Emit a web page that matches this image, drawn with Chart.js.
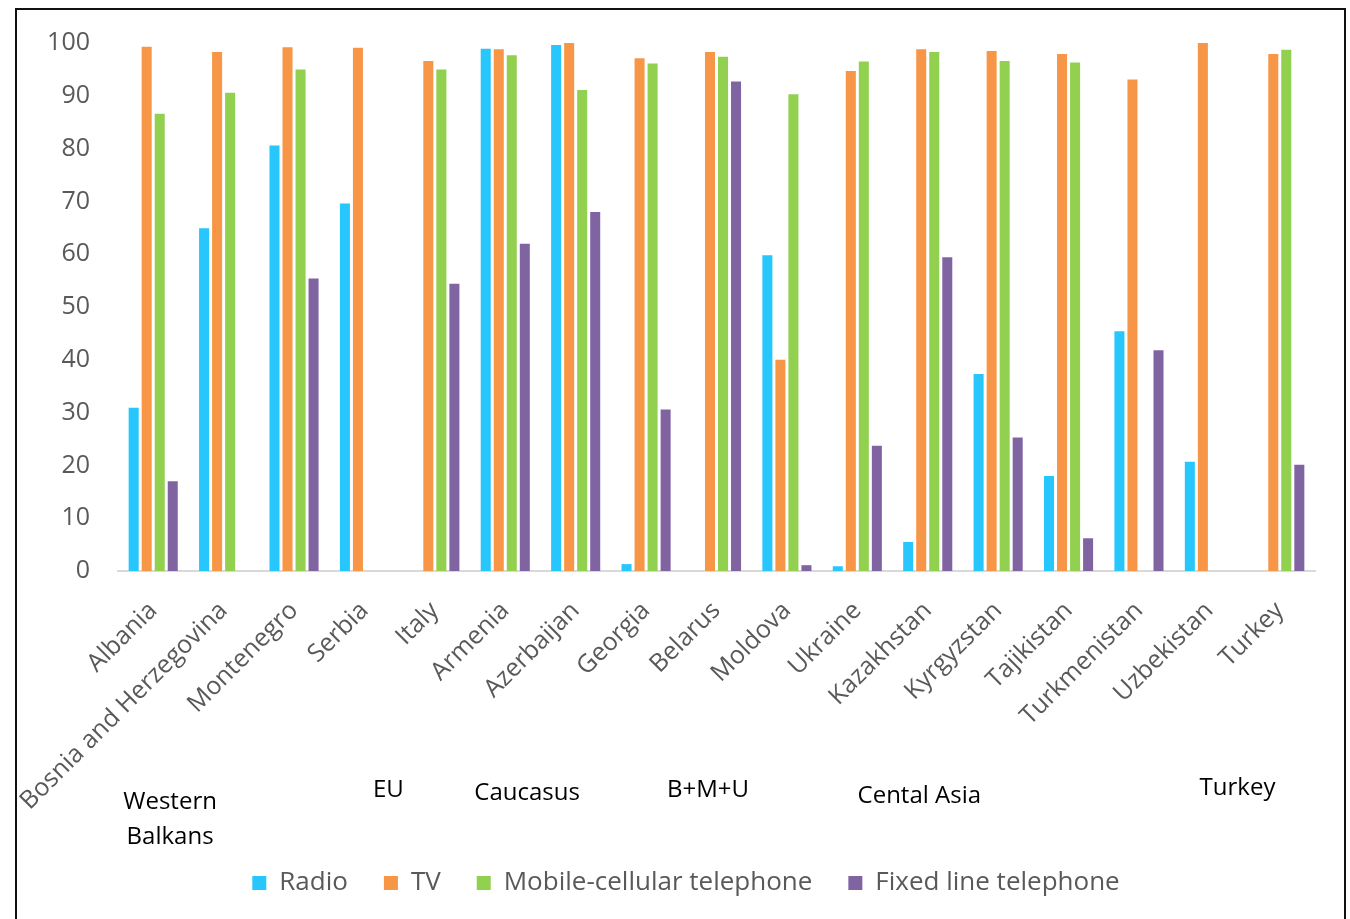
<!DOCTYPE html>
<html>
<head>
<meta charset="utf-8">
<script src="https://cdn.jsdelivr.net/npm/chart.js@4.4.1/dist/chart.umd.min.js"></script>
<style>
  html, body { margin: 0; padding: 0; background: #ffffff; overflow: hidden; }
  #wrap { position: relative; width: 1350px; height: 919px; }
  #frame { position: absolute; left: 15px; top: 8px; width: 1331px; height: 940px;
           border: 2px solid #111; box-sizing: border-box; pointer-events: none; }
  canvas { position: absolute; left: 0; top: 0; }
</style>
</head>
<body>
<div id="wrap">
  <canvas id="chart" width="1350" height="919"></canvas>
  <div id="frame"></div>
</div>
<script>
// Countries along the category axis
const countries = [
  'Albania', 'Bosnia and Herzegovina', 'Montenegro', 'Serbia', 'Italy',
  'Armenia', 'Azerbaijan', 'Georgia', 'Belarus', 'Moldova', 'Ukraine',
  'Kazakhstan', 'Kyrgyzstan', 'Tajikistan', 'Turkmenistan', 'Uzbekistan', 'Turkey'
];

// Share of households (%) by medium; null = no value reported
const radio = [30.9, 64.9, 80.6, 69.6, null, 98.9, 99.6, 1.3, null, 59.8, 0.9,
               5.5, 37.3, 18.0, 45.4, 20.7, null];
const tv = [99.3, 98.3, 99.2, 99.1, 96.6, 98.8, 100, 97.1, 98.3, 40.0, 94.7,
            98.8, 98.5, 97.9, 93.1, 100, 97.9];
const mobile = [86.6, 90.6, 95.0, null, 95.0, 97.7, 91.1, 96.1, 97.4, 90.3, 96.5,
                98.3, 96.6, 96.3, null, null, 98.7];
const fixedLine = [17.0, null, 55.4, null, 54.4, 62.0, 68.0, 30.6, 92.7, 1.1, 23.7,
                   59.4, 25.3, 6.2, 41.8, null, 20.1];

// Value axis ticks
const yTicks = [0, 10, 20, 30, 40, 50, 60, 70, 80, 90, 100];

// Regional groupings written under the country names
const regionNames = [['Western', 'Balkans'], ['EU'], ['Caucasus'], ['B+M+U'], ['Cental Asia'], ['Turkey']];

// Where each region caption sits: category position and drop below the axis line
const regionPlacement = [
  { at: 0.24, dy: 231 }, { at: 3.34, dy: 219 }, { at: 5.31, dy: 222 },
  { at: 7.88, dy: 219 }, { at: 10.88, dy: 225 }, { at: 15.4, dy: 217 }
];

const FONT = "'Open Sans', 'Liberation Sans', sans-serif";

const regionCaptions = {
  id: 'regionCaptions',
  afterDraw(chart) {
    const { ctx } = chart;
    const xs = chart.scales.x;
    const base = chart.chartArea.bottom;
    ctx.save();
    ctx.fillStyle = '#000000';
    ctx.font = '24px ' + FONT;
    ctx.textAlign = 'center';
    ctx.textBaseline = 'middle';
    regionNames.forEach((lines, i) => {
      const p = regionPlacement[i];
      const x = xs.getPixelForValue(p.at);
      lines.forEach((line, k) => {
        ctx.fillText(line, x, base + p.dy + k * 35);
      });
    });
    ctx.restore();
  }
};

const mk = (label, data, color) => ({
  label, data, backgroundColor: color, borderWidth: 0,
  barPercentage: 0.77, categoryPercentage: 0.74, yAxisID: 'y'
});

new Chart(document.getElementById('chart'), {
  type: 'bar',
  data: {
    labels: countries,
    datasets: [
      mk('Radio', radio, '#27C6FC'),
      mk('TV', tv, '#F79646'),
      mk('Mobile-cellular telephone', mobile, '#92D050'),
      mk('Fixed line telephone', fixedLine, '#8064A2')
    ]
  },
  options: {
    responsive: false,
    animation: false,
    layout: { padding: { left: 22, right: 0, top: 43, bottom: 13 } },
    plugins: {
      legend: {
        position: 'bottom',
        labels: {
          boxWidth: 14, boxHeight: 14, padding: 36,
          color: '#595959', font: { family: FONT, size: 26 }
        }
      },
      tooltip: { enabled: false }
    },
    scales: {
      x: {
        grid: { display: false, drawTicks: false },
        border: { display: true, color: '#d9d9d9', width: 2 },
        ticks: {
          autoSkip: false, minRotation: 45, maxRotation: 45, padding: 25,
          color: '#595959', font: { family: FONT, size: 25 }
        },
        afterFit(scale) { scale.height = 263; }
      },
      y: {
        min: 0, max: 100,
        grid: { display: false, drawTicks: false },
        border: { display: false },
        afterBuildTicks(scale) { scale.ticks = yTicks.map(v => ({ value: v })); },
        ticks: {
          padding: 28, color: '#595959', font: { family: FONT, size: 25 }
        },
        afterFit(scale) { scale.width = 96; }
      },
      // blank margin on the right of the plot
      yRight: {
        position: 'right', min: 0, max: 100,
        grid: { display: false, drawTicks: false },
        border: { display: false },
        ticks: { display: false },
        afterFit(scale) { scale.width = 35; }
      }
    }
  },
  plugins: [regionCaptions]
});
</script>
</body>
</html>
